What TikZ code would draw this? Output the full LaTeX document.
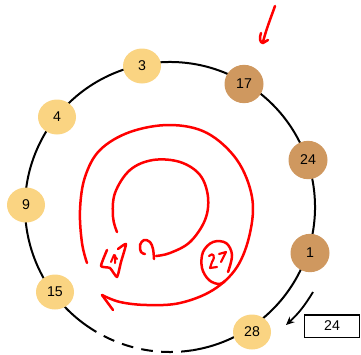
\documentclass[tikz,border=0pt]{standalone}
\usepackage{fontspec}
\setmainfont{Liberation Sans}
\usetikzlibrary{shapes.geometric,arrows.meta}
\definecolor{lightnode}{RGB}{250,212,130}
\definecolor{darknode}{RGB}{207,152,95}
\begin{document}
\begin{tikzpicture}[x=0.6pt,y=-0.6pt,
  every node/.style={font=\fontsize{8.5}{10}\selectfont},
  lnode/.style={ellipse,fill=lightnode,draw=none,inner sep=0pt,minimum width=22.8pt,minimum height=21pt},
  dnode/.style={ellipse,fill=darknode,draw=none,inner sep=0pt,minimum width=23.4pt,minimum height=23pt},
  ring/.style={line width=1.2pt,black},
  scrib/.style={red,line width=1.5pt,line cap=round,line join=round},
  valbox/.style={draw,line width=0.9pt,minimum width=33pt,minimum height=13.5pt,inner sep=0pt}]
\useasboundingbox (0,0) rectangle (361,354);
\coordinate (c) at (170,207);
% ring
\draw[ring] (c) ++(121:145) arc[start angle=121,end angle=441,radius=145];
\draw[ring,dash pattern=on 7pt off 5pt] (c) ++(81:145) arc[start angle=81,end angle=121,radius=145];
% nodes
\node[lnode] (n3) at (142,66) {3};
\node[dnode] (n17) at (244,84) {17};
\node[lnode] (n4) at (57,117) {4};
\node[dnode] (n24) at (308,160) {24};
\node[lnode] (n9) at (26,205) {9};
\node[dnode] (n1) at (310,253) {1};
\node[lnode] (n15) at (55,292) {15};
\node[lnode] (n28) at (252,332) {28};
\node[valbox] (v) at (332,326) {24};
% black arrow
\coordinate (as) at (313,292);
\coordinate (ae) at (286,325);
\draw[line width=1.1pt,-{Stealth[length=5pt,width=4.5pt]}] (as) to[bend left=8] (ae);
% red outer loop
\draw[scrib] plot[smooth,tension=0.6] coordinates {(87,263) (82,243) (80,210) (85,177) (100,150) (130,132) (170,125) (207,133) (237,160) (252,197) (250,233) (237,267) (213,290) (180,303) (147,305) (120,302) (102,295)};
\draw[scrib] (102,295) -- (113,310);
% red inner loop
\draw[scrib] plot[smooth,tension=0.6] coordinates {(117,232) (113,217) (115,193) (130,170) (153,160) (180,162) (200,175) (208,197) (205,220) (190,242) (170,253) (156,256)};
\draw[scrib] plot[smooth,tension=0.6] coordinates {(154,259) (153,249) (150,242) (144,240) (140,245) (141,252) (145,254)};
% red triangle with 4
\draw[scrib] plot[smooth,tension=0.3] coordinates {(107,250) (101,266) (110,268) (117,277) (121,262) (126,244) (118,249)};
\draw[scrib,line width=1.2pt] (111,262) -- (114,255) -- (117,259) (115,255) -- (115,263);
% red 27 oval
\draw[scrib] plot[smooth,tension=0.6] coordinates {(228,272) (232,255) (226,243) (213,242) (203,252) (202,268) (209,280) (219,284) (225,281)};
\draw[scrib,line width=1.3pt] (209,256) .. controls (213,252) and (216,256) .. (212,262) -- (210,268) -- (217,267);
\draw[scrib,line width=1.3pt] (219,254) -- (226,252) -- (221,262);
% red mark at top
\draw[scrib] (275,6) .. controls (270,20) and (266,30) .. (263,42);
\draw[scrib] (261,33) .. controls (259,38) and (260,43) .. (263,43) -- (268,40);
\end{tikzpicture}
\end{document}
